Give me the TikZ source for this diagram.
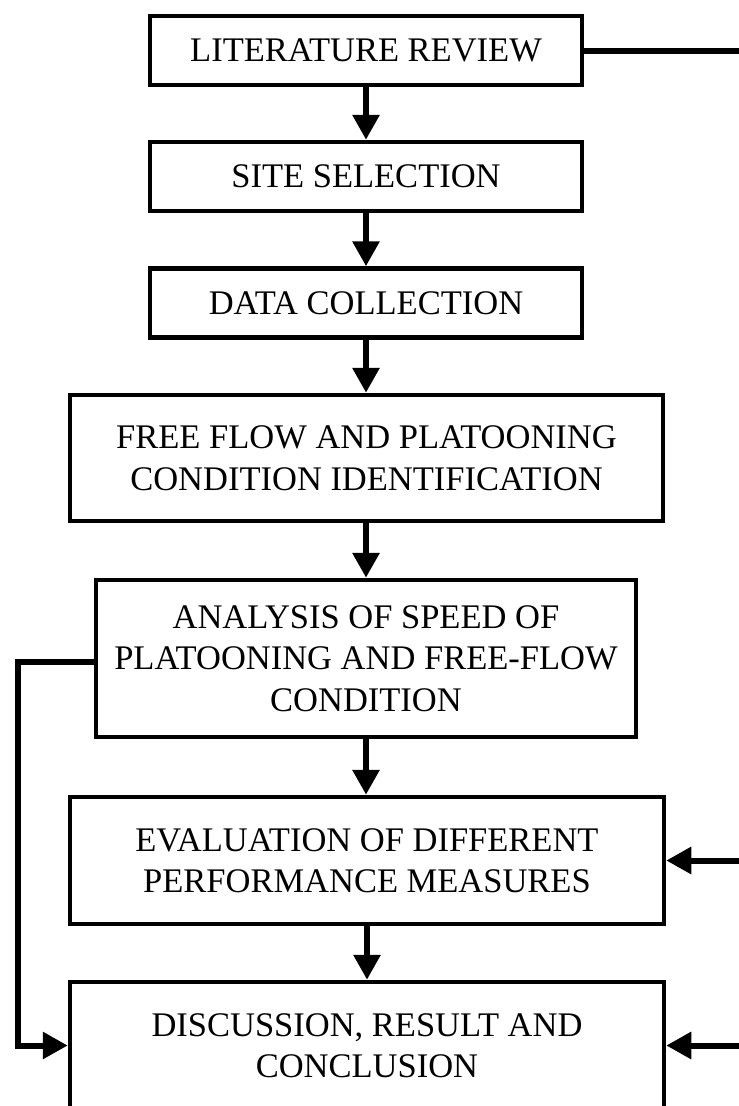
\documentclass[tikz,border=0pt]{standalone}
\usepackage{fontspec}
\setmainfont{Liberation Serif}
\usetikzlibrary{arrows.meta}
\begin{document}
\begin{tikzpicture}[x=1pt,y=-1pt,
  box/.style={draw,line width=4.5pt,align=center,inner sep=0pt,
    font=\fontsize{34.5}{41.5}\selectfont},
  conn/.style={line width=6pt,-{Triangle[length=25pt,width=26pt]}},
  plainline/.style={line width=6pt}]
\useasboundingbox (0,0) rectangle (739,1106);
\node[box,minimum width=432pt,minimum height=69pt] (b1) at (366,50.5) {LITERATURE REVIEW};
\node[box,minimum width=432pt,minimum height=69pt] (b2) at (366,176.5) {SITE SELECTION};
\node[box,minimum width=432pt,minimum height=69pt] (b3) at (366,303) {DATA COLLECTION};
\node[box,minimum width=593pt,minimum height=126pt] (b4) at (366.5,458) {FREE FLOW AND PLATOONING\\CONDITION IDENTIFICATION};
\node[box,minimum width=540pt,minimum height=157pt] (b5) at (366,658.5) {ANALYSIS OF SPEED OF\\PLATOONING AND FREE-FLOW\\CONDITION};
\node[box,minimum width=594pt,minimum height=127pt] (b6) at (367,860.5) {EVALUATION OF DIFFERENT\\PERFORMANCE MEASURES};
\node[box,minimum width=594pt,minimum height=127pt] (b7) at (367,1045.5) {DISCUSSION, RESULT AND\\CONCLUSION};
\coordinate (r1) at (750,50.5);
\coordinate (r6) at (750,860.5);
\coordinate (r7) at (750,1045.5);
\coordinate (lx) at (18,662);
\draw[conn] (b1) -- (b2);
\draw[conn] (b2) -- (b3);
\draw[conn] (b3.south) -- (b3.south |- b4.north);
\draw[conn] (b4.south -| b5.north) -- (b5.north);
\draw[conn] (b5.south) -- (b5.south |- b6.north);
\draw[conn] (b6.south) -- (b6.south |- b7.north);
\draw[plainline] (b1.east) -- (r1);
\draw[conn] (r6) -- (b6.east);
\draw[conn] (r7) -- (b7.east);
\draw[conn] (b5.west |- lx) -- (lx) |- (b7.west);
\end{tikzpicture}
\end{document}
